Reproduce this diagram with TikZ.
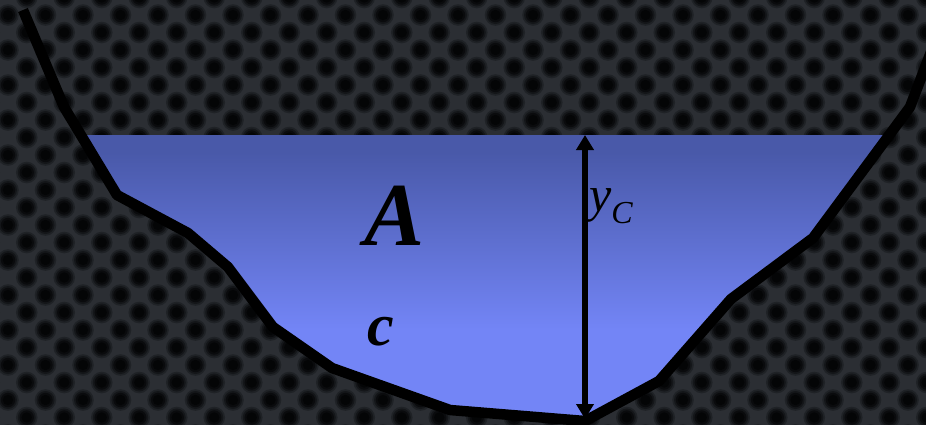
\documentclass[tikz,border=0pt]{standalone}
\usepackage{fontspec}
\setmainfont{Liberation Serif}
\usetikzlibrary{arrows.meta}
\definecolor{bgbase}{HTML}{2B2E33}
\definecolor{holeA}{HTML}{1F2226}
\definecolor{holeB}{HTML}{141619}
\definecolor{holeC}{HTML}{0A0B0D}
\definecolor{holeD}{HTML}{040506}
\definecolor{wdark}{HTML}{4959A9}
\definecolor{wlight}{HTML}{7385F6}
\pgfdeclareverticalshading{water}{100bp}{color(0bp)=(wlight); color(41bp)=(wlight); color(72bp)=(wdark); color(100bp)=(wdark)}
\tikzset{
  bedline/.style={line width=10.5pt, line join=round, line cap=butt, black},
  deptharrow/.style={line width=6pt, black, {Triangle[width=17pt,length=15pt]}-{Triangle[width=17pt,length=15pt]}},
  biglabel/.style={inner sep=0pt, font=\fontsize{90}{90}\selectfont\bfseries\itshape},
  smalllabel/.style={inner sep=0pt, font=\fontsize{60}{60}\selectfont\bfseries\itshape},
}
\begin{document}
\begin{tikzpicture}[x=1pt,y=-1pt]
\useasboundingbox (0,0) rectangle (926,424);
% background: perforated metal
\fill[bgbase] (-6,-6) rectangle (932,430);
\begin{scope}
\clip (-6,-6) rectangle (932,430);
\foreach \j in {0,...,25}{
  \pgfmathsetmacro{\yy}{-2.5+17.5*\j}
  \pgfmathsetmacro{\xo}{mod(\j,2)==1 ? 8 : -10.75}
  \foreach \i in {0,...,25}{
    \pgfmathsetmacro{\xx}{\xo+37.5*\i}
    \fill[holeA] (\xx,\yy) circle[radius=10.8];
    \fill[holeB] (\xx,\yy) circle[radius=9];
    \fill[holeC] (\xx,\yy) circle[radius=7.2];
    \fill[holeD] (\xx,\yy) circle[radius=5.2];
  }
}
\end{scope}
% bed coordinates
\coordinate (b0) at (23,10);
\coordinate (b1) at (64,107);
\coordinate (wl) at (80.9,135);
\coordinate (b2) at (117,195);
\coordinate (b3) at (188,233);
\coordinate (b4) at (228,267);
\coordinate (b5) at (273,327);
\coordinate (b6) at (332,368);
\coordinate (b7) at (450,410);
\coordinate (b8) at (585,421);
\coordinate (b9) at (659,381);
\coordinate (b10) at (731,299);
\coordinate (b11) at (813,238);
\coordinate (wr) at (889,135);
\coordinate (b12) at (910,107);
\coordinate (b13) at (934,44);
% water
\shade[shading=water] (wl) -- (b2) -- (b3) -- (b4) -- (b5) -- (b6) -- (b7) -- (b8) -- (b9) -- (b10) -- (b11) -- (wr) -- cycle;
% bed line
\draw[bedline] (b0) -- (b1) -- (b2) -- (b3) -- (b4) -- (b5) -- (b6) -- (b7) -- (b8) -- (b9) -- (b10) -- (b11) -- (b12) -- (b13);
% depth arrow
\coordinate (atop) at (585,135);
\coordinate (abot) at (585,419);
\draw[deptharrow] (abot) -- (atop);
% labels
\node[biglabel, anchor=base] (areaA) at (395,245) {A};
\node[smalllabel, anchor=base] (perim) at (381,345) {c};
\node[inner sep=0pt, anchor=base west] (depth) at (589,211) {\fontsize{50}{50}\selectfont\itshape y\raisebox{-12pt}{\fontsize{32}{32}\selectfont C}};
\end{tikzpicture}
\end{document}
